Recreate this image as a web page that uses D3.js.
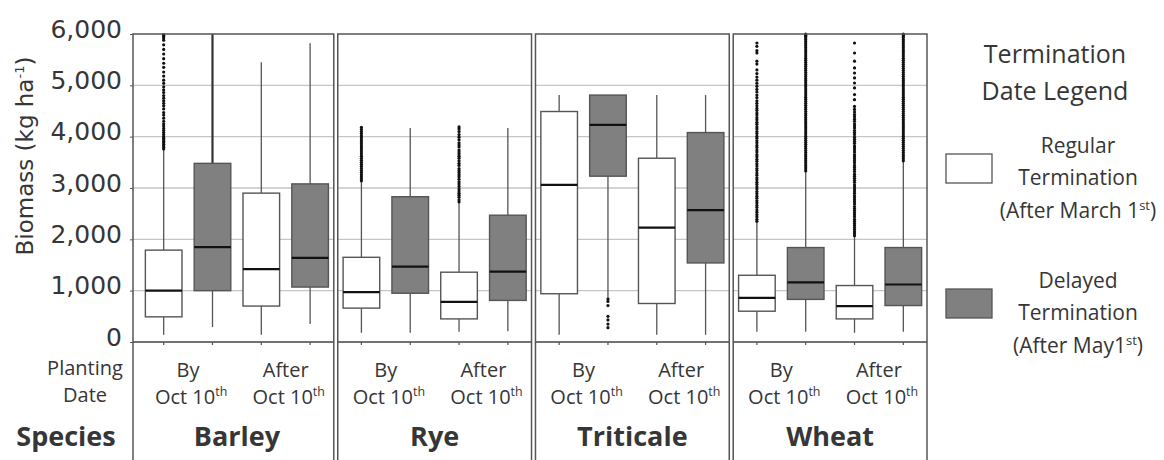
<!DOCTYPE html>
<html>
<head>
<meta charset="utf-8">
<script src="https://cdn.jsdelivr.net/npm/d3@7"></script>
<style>
  body { margin: 0; background: #fff; }
  svg { display: block; }
</style>
</head>
<body>
<svg id="chart" width="1164" height="460"></svg>
<script>
// categories
var species = ["Barley", "Rye", "Triticale", "Wheat"];
var planting = ["By", "After"];
var termination = ["Regular", "Delayed"];
var yTicks = [0, 1000, 2000, 3000, 4000, 5000, 6000];

// box stats, order: species x planting x termination
var whiskerLow = [140, 290, 140, 350, 180, 180, 200, 210, 140, 870, 140, 140, 200, 200, 180, 200];
var q1 = [490, 1000, 700, 1070, 660, 950, 450, 810, 940, 3230, 750, 1540, 600, 830, 450, 710];
var median = [1000, 1850, 1420, 1640, 970, 1470, 780, 1370, 3060, 4230, 2230, 2570, 860, 1160, 700, 1120];
var q3 = [1790, 3480, 2900, 3080, 1650, 2830, 1360, 2470, 4490, 4810, 3580, 4080, 1300, 1840, 1100, 1840];
var whiskerHigh = [3750, 6000, 5450, 5820, 3120, 4170, 2720, 4170, 4810, 4810, 4810, 4810, 2330, 3300, 2060, 3520];

var outliers = [
  // Barley
  [3760, 3790, 3820, 3850, 3880, 3910, 3940, 3970, 4000, 4040, 4080, 4120, 4160, 4210, 4250, 4300, 4360, 4420, 4470, 4540, 4600, 4650, 4700, 4750, 4800, 4860, 4910, 4970, 5040, 5100, 5180, 5260, 5350, 5430, 5520, 5610, 5700, 5790, 5880, 5920, 5950, 5970, 5990],
  [], [], [],
  // Rye
  [3140, 3180, 3220, 3260, 3300, 3340, 3380, 3420, 3460, 3500, 3540, 3580, 3620, 3660, 3700, 3740, 3780, 3820, 3860, 3900, 3940, 3980, 4020, 4060, 4100, 4140, 4180],
  [],
  [2730, 2770, 2820, 2860, 2900, 2940, 2980, 3030, 3080, 3120, 3170, 3220, 3260, 3300, 3340, 3380, 3440, 3480, 3530, 3580, 3620, 3660, 3700, 3740, 3800, 3840, 3880, 3940, 3990, 4040, 4100, 4150, 4190],
  [],
  // Triticale
  [],
  [840, 790, 710, 500, 430, 350, 280],
  [], [],
  // Wheat
  [2350, 2390, 2440, 2480, 2530, 2570, 2620, 2660, 2710, 2750, 2800, 2840, 2890, 2930, 2980, 3020, 3070, 3110, 3160, 3200, 3250, 3290, 3340, 3380, 3430, 3470, 3520, 3560, 3610, 3650, 3700, 3740, 3790, 3830, 3880, 3920, 3970, 4010, 4060, 4100, 4150, 4190, 4240, 4280, 4330, 4370, 4420, 4460, 4510, 4550, 4600, 4650, 4700, 4760, 4810, 4870, 4920, 4980, 5040, 5100, 5160, 5230, 5300, 5415, 5470, 5630, 5675, 5760, 5825],
  [3330, 3370, 3410, 3450, 3490, 3530, 3570, 3610, 3650, 3690, 3730, 3770, 3810, 3850, 3890, 3930, 3970, 4010, 4050, 4090, 4130, 4170, 4210, 4250, 4290, 4330, 4370, 4410, 4450, 4490, 4530, 4570, 4610, 4650, 4690, 4730, 4770, 4810, 4850, 4890, 4930, 4970, 5010, 5050, 5090, 5130, 5170, 5210, 5250, 5290, 5330, 5370, 5410, 5450, 5490, 5530, 5570, 5610, 5650, 5690, 5730, 5770, 5810, 5850, 5890, 5920, 5950, 5970, 5990, 6000],
  [2070, 2110, 2150, 2190, 2230, 2270, 2310, 2350, 2390, 2440, 2480, 2520, 2560, 2600, 2640, 2690, 2730, 2770, 2810, 2850, 2900, 2940, 2980, 3020, 3060, 3110, 3150, 3190, 3230, 3270, 3320, 3360, 3400, 3440, 3490, 3530, 3570, 3610, 3650, 3700, 3740, 3780, 3820, 3870, 3910, 3950, 3990, 4040, 4080, 4120, 4170, 4210, 4250, 4300, 4340, 4390, 4430, 4480, 4530, 4590, 4720, 4820, 4950, 5045, 5145, 5240, 5340, 5470, 5630, 5825],
  [3530, 3570, 3610, 3650, 3690, 3730, 3770, 3810, 3850, 3890, 3930, 3970, 4010, 4050, 4090, 4130, 4170, 4210, 4250, 4290, 4330, 4370, 4410, 4450, 4490, 4530, 4570, 4610, 4650, 4690, 4730, 4770, 4810, 4850, 4890, 4930, 4970, 5010, 5050, 5090, 5130, 5170, 5210, 5250, 5290, 5330, 5370, 5410, 5450, 5490, 5530, 5570, 5610, 5650, 5690, 5730, 5770, 5810, 5850, 5890, 5930, 5960, 5980, 6000]
];

var legendLines = {
  Regular: [["Regular"], ["Termination"], ["(After March 1", "st", ")"]],
  Delayed: [["Delayed"], ["Termination"], ["(After May1", "st", ")"]]
};

// build boxes
var boxes = [];
var k = 0;
species.forEach(function (s) {
  planting.forEach(function (p) {
    termination.forEach(function (t) {
      boxes.push({
        species: s, planting: p, termination: t, key: p + "-" + t,
        lo: whiskerLow[k], q1: q1[k], med: median[k], q3: q3[k], hi: whiskerHigh[k],
        out: outliers[k]
      });
      k++;
    });
  });
});

var svg = d3.select("#chart");
var textColor = "#363636";
var boxStroke = "#555";
var delayedFill = "#808080";
var sansFont = "'Open Sans', sans-serif";
var axisFont = "'DejaVu Sans', sans-serif";

var plotLeft = 133;
var yTop = 34, yBottom = 342;
var y = d3.scaleLinear().domain([0, 6000]).range([yBottom, yTop]);

var xPanel = d3.scaleBand().domain(species).range([140, 927]).paddingInner(0.02);
var keys = [];
planting.forEach(function (p) { termination.forEach(function (t) { keys.push(p + "-" + t); }); });
var xBox = d3.scaleBand().domain(keys).range([0, xPanel.bandwidth()]).paddingInner(0.25).paddingOuter(0.11);

// first panel reaches back to the y axis
function panelLeft(d) { return d === species[0] ? plotLeft - xPanel(d) : 0; }

var panels = svg.selectAll("g.panel").data(species).enter().append("g")
  .attr("class", "panel")
  .attr("transform", function (d) { return "translate(" + xPanel(d) + ",0)"; });

// gridlines
panels.each(function (s) {
  d3.select(this).selectAll("line.grid").data(yTicks.filter(function (v) { return v > 0 && v < 6000; }))
    .enter().append("line")
    .attr("x1", panelLeft(s)).attr("x2", xPanel.bandwidth())
    .attr("y1", function (d) { return y(d); }).attr("y2", function (d) { return y(d); })
    .attr("stroke", "#c6c6c6").attr("stroke-width", 1.3);
});

// x axis line and ticks
panels.append("line")
  .attr("x1", function (d) { return panelLeft(d); }).attr("x2", xPanel.bandwidth())
  .attr("y1", y(0)).attr("y2", y(0))
  .attr("stroke", "#444").attr("stroke-width", 1.5);

panels.selectAll("line.xtick").data(keys).enter().append("line")
  .attr("x1", function (d) { return xBox(d) + xBox.bandwidth() / 2; })
  .attr("x2", function (d) { return xBox(d) + xBox.bandwidth() / 2; })
  .attr("y1", y(0)).attr("y2", y(0) + 3)
  .attr("stroke", "#555").attr("stroke-width", 1.2);

// boxes
panels.each(function (s) {
  var g = d3.select(this);
  var data = boxes.filter(function (b) { return b.species === s; });
  var bw = xBox.bandwidth();
  var bg = g.selectAll("g.box").data(data).enter().append("g")
    .attr("transform", function (d) { return "translate(" + xBox(d.key) + ",0)"; });

  bg.append("line")
    .attr("x1", bw / 2).attr("x2", bw / 2)
    .attr("y1", function (d) { return y(d.lo); }).attr("y2", function (d) { return y(d.q1); })
    .attr("stroke", boxStroke).attr("stroke-width", 1.3);
  bg.append("line")
    .attr("x1", bw / 2).attr("x2", bw / 2)
    .attr("y1", function (d) { return y(d.q3); }).attr("y2", function (d) { return y(d.hi); })
    .attr("stroke", function (d) { return d.hi >= 6000 ? "#333" : boxStroke; })
    .attr("stroke-width", function (d) { return d.hi >= 6000 ? 2.2 : 1.3; });

  bg.append("rect")
    .attr("x", 0).attr("width", bw)
    .attr("y", function (d) { return y(d.q3); })
    .attr("height", function (d) { return y(d.q1) - y(d.q3); })
    .attr("fill", function (d) { return d.termination === "Delayed" ? delayedFill : "#fff"; })
    .attr("stroke", boxStroke).attr("stroke-width", 1.4);

  bg.append("line")
    .attr("x1", 0).attr("x2", bw)
    .attr("y1", function (d) { return y(d.med); }).attr("y2", function (d) { return y(d.med); })
    .attr("stroke", "#111").attr("stroke-width", 2.2);

  bg.selectAll("circle").data(function (d) { return d.out; }).enter().append("circle")
    .attr("cx", bw / 2).attr("cy", function (v) { return y(v); })
    .attr("r", 1.6).attr("fill", "#111");
});

// panel frames
panels.append("rect")
  .attr("x", function (d) { return panelLeft(d); }).attr("y", yTop)
  .attr("width", function (d) { return xPanel.bandwidth() - panelLeft(d); }).attr("height", 470 - yTop)
  .attr("fill", "none").attr("stroke", "#555").attr("stroke-width", 1.5);

// y axis
var yAxis = svg.append("g")
  .attr("transform", "translate(" + plotLeft + ",0)")
  .call(d3.axisLeft(y).tickValues(yTicks).tickFormat(d3.format(",")).tickSize(3).tickPadding(8));
yAxis.select(".domain").remove();
yAxis.selectAll(".tick line").attr("stroke", "#555");
yAxis.selectAll(".tick text")
  .attr("font-family", axisFont).attr("font-size", 25).attr("fill", textColor)
  .attr("dy", "0.12em");

var yTitle = svg.append("text")
  .attr("transform", "translate(33,156) rotate(-90)")
  .attr("text-anchor", "middle")
  .attr("font-family", axisFont).attr("font-size", 23).attr("fill", textColor);
yTitle.append("tspan").text("Biomass (kg ha");
yTitle.append("tspan").text("-1").attr("font-size", 13).attr("dy", -9);
yTitle.append("tspan").text(")").attr("dy", 9);

// helper for text with superscript
function supText(g, parts, x, yy, size) {
  var t = g.append("text")
    .attr("x", x).attr("y", yy)
    .attr("text-anchor", "middle")
    .attr("font-family", sansFont).attr("font-size", size).attr("fill", textColor);
  parts.forEach(function (p, i) {
    var ts = t.append("tspan").text(p);
    if (i === 1) ts.attr("font-size", size * 0.62).attr("dy", -size * 0.38);
    if (i === 2) ts.attr("dy", size * 0.38);
  });
  return t;
}

// planting date labels
panels.each(function (s) {
  var g = d3.select(this);
  planting.forEach(function (p) {
    var a = xBox(p + "-" + termination[0]);
    var b = xBox(p + "-" + termination[1]) + xBox.bandwidth();
    var cx = (a + b) / 2;
    supText(g, [p], cx, 377, 20);
    supText(g, ["Oct 10", "th"], cx + 3, 404, 20);
  });
  g.append("text")
    .attr("x", xPanel.bandwidth() / 2).attr("y", 446)
    .attr("text-anchor", "middle")
    .attr("font-family", sansFont).attr("font-weight", "bold").attr("font-size", 27)
    .attr("fill", textColor).text(s);
});

svg.append("text").attr("x", 85).attr("y", 375).attr("text-anchor", "middle")
  .attr("font-family", sansFont).attr("font-size", 20).attr("fill", textColor).text("Planting");
svg.append("text").attr("x", 85).attr("y", 402).attr("text-anchor", "middle")
  .attr("font-family", sansFont).attr("font-size", 20).attr("fill", textColor).text("Date");
svg.append("text").attr("x", 66).attr("y", 446).attr("text-anchor", "middle")
  .attr("font-family", sansFont).attr("font-weight", "bold").attr("font-size", 27)
  .attr("fill", textColor).text("Species");

// legend
var legend = svg.append("g");
legend.append("text").attr("x", 1055).attr("y", 63).attr("text-anchor", "middle")
  .attr("font-family", sansFont).attr("font-size", 25).attr("fill", textColor).text("Termination");
legend.append("text").attr("x", 1055).attr("y", 100).attr("text-anchor", "middle")
  .attr("font-family", sansFont).attr("font-size", 25).attr("fill", textColor).text("Date Legend");

var legendY = d3.scalePoint().domain(termination).range([154, 289]);
termination.forEach(function (t) {
  var top = legendY(t);
  legend.append("rect")
    .attr("x", 946).attr("y", top).attr("width", 46).attr("height", 29)
    .attr("fill", t === "Delayed" ? delayedFill : "#fff")
    .attr("stroke", boxStroke).attr("stroke-width", 1.3);
  legendLines[t].forEach(function (parts, i) {
    supText(legend, parts, 1078, top + 4 + (i - 1) * 32.5 + 27, 21);
  });
});
</script>
</body>
</html>
